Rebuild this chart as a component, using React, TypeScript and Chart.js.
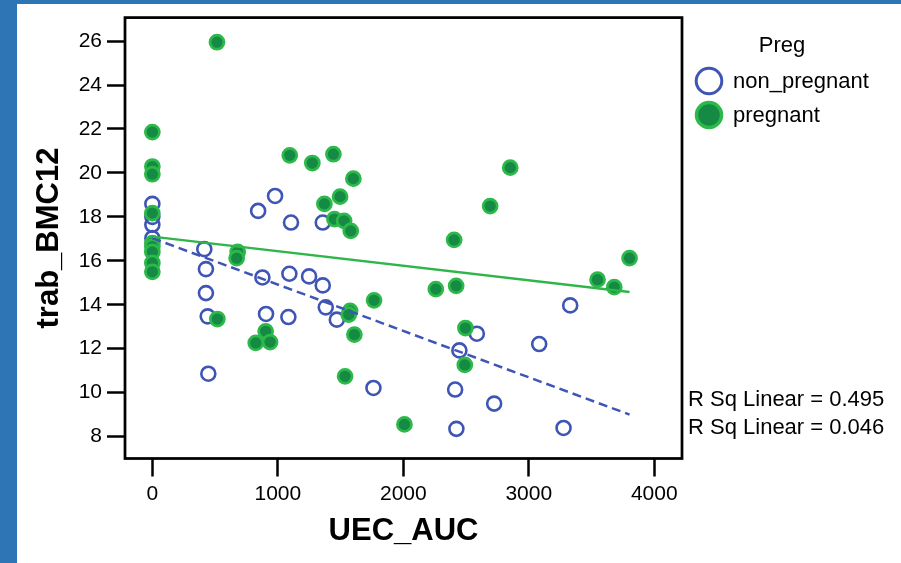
import React, { useEffect, useRef } from "react";
import { Chart, registerables } from "chart.js";

Chart.register(...registerables);

// ---- data ----
const nonPregnantX = [0, 0, 0, 0, 843, 978, 1105, 1358, 414, 427, 427, 441, 446, 877, 906, 1092, 1084, 1249, 1358, 1382, 1470, 1762, 2586, 2447, 3083, 3330, 2413, 2724, 2423, 3277];
const nonPregnantY = [18.59, 18.0, 17.64, 17.03, 18.27, 18.95, 17.74, 17.74, 16.53, 15.62, 14.53, 13.47, 10.86, 15.24, 13.58, 15.41, 13.44, 15.29, 14.88, 13.88, 13.32, 10.21, 12.68, 11.92, 12.21, 13.97, 10.14, 9.5, 8.35, 8.39];

const pregnantX = [515, 0, 0, 0, 0, 0, 0, 0, 0, 0, 1095, 1275, 1443, 1602, 1496, 1371, 1451, 1528, 1581, 518, 680, 672, 903, 824, 938, 1576, 1565, 1610, 1536, 1767, 2009, 2852, 2692, 2405, 3803, 3548, 3681, 2259, 2421, 2495, 2490];
const pregnantY = [25.95, 21.86, 20.29, 19.94, 18.17, 16.8, 16.65, 16.4, 15.9, 15.5, 20.8, 20.45, 20.85, 19.74, 18.92, 18.59, 17.9, 17.82, 17.36, 13.35, 16.4, 16.12, 12.79, 12.26, 12.3, 13.72, 13.55, 12.64, 10.74, 14.2, 8.55, 20.24, 18.49, 16.95, 16.12, 15.14, 14.8, 14.71, 14.86, 12.94, 11.26];

const fitX = [0, 3803];
const nonPregnantFitY = [17.03, 9.0];
const pregnantFitY = [17.1, 14.58];

const xTicks = [0, 1000, 2000, 3000, 4000];
const yTicks = [8, 10, 12, 14, 16, 18, 20, 22, 24, 26];

const xTitle = "UEC_AUC";
const yTitle = "trab_BMC12";
const legendTitle = "Preg";
const seriesNames = ["non_pregnant", "pregnant"];
const rSquaredLabels = ["R Sq Linear = 0.495", "R Sq Linear = 0.046"];

const FONT = '"Liberation Sans", Arial, Helvetica, sans-serif';
const BLUE = "#3f55b5";
const GREEN_EDGE = "#2db84a";
const GREEN_FILL = "#148a45";
const GREEN_LINE = "#30b54a";

const toPoints = (xs: number[], ys: number[]) => xs.map((x, i) => ({ x, y: ys[i] }));

const decorPlugin = {
  id: "decor",
  afterDraw(chart: any) {
    const { ctx, chartArea } = chart;
    ctx.save();
    // plot frame
    ctx.strokeStyle = "#000";
    ctx.lineWidth = 2.75;
    ctx.strokeRect(chartArea.left, chartArea.top, chartArea.right - chartArea.left, chartArea.bottom - chartArea.top);

    // legend
    ctx.fillStyle = "#000";
    ctx.font = `22px ${FONT}`;
    ctx.textBaseline = "alphabetic";
    ctx.textAlign = "center";
    ctx.fillText(legendTitle, 782, 52);
    ctx.textAlign = "left";
    ctx.fillText(seriesNames[0], 733, 88);
    ctx.fillText(seriesNames[1], 733, 122);

    ctx.beginPath();
    ctx.arc(709, 81, 12.8, 0, Math.PI * 2);
    ctx.strokeStyle = BLUE;
    ctx.lineWidth = 3;
    ctx.stroke();

    ctx.beginPath();
    ctx.arc(709, 115, 12.5, 0, Math.PI * 2);
    ctx.fillStyle = GREEN_FILL;
    ctx.fill();
    ctx.strokeStyle = GREEN_EDGE;
    ctx.lineWidth = 3.5;
    ctx.stroke();

    // R squared labels
    ctx.fillStyle = "#000";
    ctx.font = `22px ${FONT}`;
    ctx.fillText(rSquaredLabels[0], 688, 406);
    ctx.fillText(rSquaredLabels[1], 688, 434);
    ctx.restore();
  },
};

export default function App() {
  const ref = useRef<HTMLCanvasElement | null>(null);

  useEffect(() => {
    if (!ref.current) return;
    const chart = new Chart(ref.current, {
      type: "scatter",
      data: {
        datasets: [
          {
            label: "pregnant fit",
            data: toPoints(fitX, pregnantFitY),
            showLine: true,
            borderColor: GREEN_LINE,
            borderWidth: 2.5,
            pointRadius: 0,
            fill: false,
          },
          {
            label: "non_pregnant fit",
            data: toPoints(fitX, nonPregnantFitY),
            showLine: true,
            borderColor: BLUE,
            borderWidth: 2.5,
            borderDash: [9, 5],
            pointRadius: 0,
            fill: false,
          },
          {
            label: seriesNames[1],
            data: toPoints(pregnantX, pregnantY),
            backgroundColor: GREEN_FILL,
            borderColor: GREEN_EDGE,
            borderWidth: 2.75,
            pointRadius: 7,
          },
          {
            label: seriesNames[0],
            data: toPoints(nonPregnantX, nonPregnantY),
            backgroundColor: "rgba(0,0,0,0)",
            borderColor: BLUE,
            borderWidth: 2.6,
            pointRadius: 7,
          },
        ],
      } as any,
      options: {
        animation: false,
        responsive: false,
        devicePixelRatio: 1,
        events: [],
        layout: { padding: { left: 0, top: 17.5, right: 219, bottom: 0 } },
        plugins: { legend: { display: false }, tooltip: { enabled: false } },
        scales: {
          x: {
            type: "linear",
            position: "bottom",
            min: -218,
            max: 4221,
            afterBuildTicks: (s: any) => {
              s.ticks = xTicks.map((v) => ({ value: v }));
            },
            afterFit: (s: any) => {
              s.height = 104.5;
            },
            border: { display: false },
            grid: {
              drawOnChartArea: false,
              drawTicks: true,
              tickLength: 18,
              tickColor: "#000",
              tickWidth: 2.5,
            },
            ticks: {
              color: "#000",
              font: { family: FONT, size: 21 },
              padding: 5,
              maxRotation: 0,
              callback: (v: any) => String(v),
            },
            title: {
              display: true,
              text: xTitle,
              color: "#000",
              font: { family: FONT, size: 31, weight: "bold" },
              padding: { top: 0, bottom: 13 },
            },
          },
          y: {
            type: "linear",
            position: "left",
            min: 7,
            max: 27.07,
            afterBuildTicks: (s: any) => {
              s.ticks = yTicks.map((v) => ({ value: v }));
            },
            afterFit: (s: any) => {
              s.width = 125;
            },
            border: { display: false },
            grid: {
              drawOnChartArea: false,
              drawTicks: true,
              tickLength: 18,
              tickColor: "#000",
              tickWidth: 2.5,
            },
            ticks: {
              color: "#000",
              font: { family: FONT, size: 21 },
              padding: 5,
              callback: (v: any) => String(v),
            },
            title: {
              display: true,
              text: yTitle,
              color: "#000",
              font: { family: FONT, size: 31, weight: "bold" },
              padding: { top: 31, bottom: 0 },
            },
          },
        },
      } as any,
      plugins: [decorPlugin],
    });
    return () => chart.destroy();
  }, []);

  return (
    <div style={{ position: "fixed", left: 0, top: 0, width: 901, height: 563, background: "#fff", overflow: "hidden" }}>
      <canvas ref={ref} width={901} height={563} style={{ position: "absolute", left: 0, top: 0, width: 901, height: 563 }} />
      <div style={{ position: "absolute", left: 0, top: 0, width: 901, height: 4, background: "#2e75b6" }} />
      <div style={{ position: "absolute", left: 0, top: 0, width: 17, height: 563, background: "#2e75b6" }} />
    </div>
  );
}
